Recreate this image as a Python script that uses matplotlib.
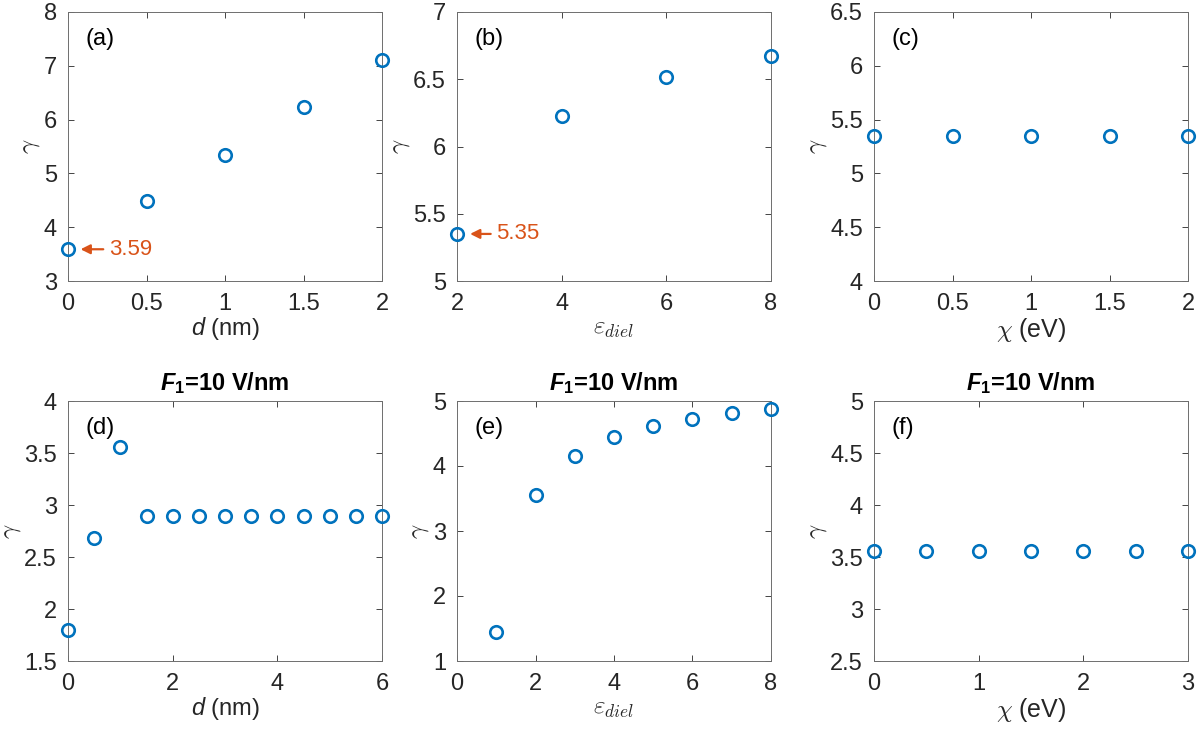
import matplotlib
matplotlib.use('Agg')
import matplotlib.pyplot as plt
from matplotlib.ticker import FuncFormatter, MultipleLocator

plt.rcParams['font.family'] = ['Liberation Sans', 'DejaVu Sans']
plt.rcParams['mathtext.fontset'] = 'custom'
plt.rcParams['mathtext.rm'] = 'Liberation Sans'
plt.rcParams['mathtext.it'] = 'Liberation Sans:italic'
plt.rcParams['mathtext.bf'] = 'Liberation Sans:bold'
plt.rcParams['mathtext.bfit'] = 'Liberation Sans:italic:bold'

# data
d_a = [0, 0.5, 1, 1.5, 2]
gamma_a = [3.59, 4.48, 5.35, 6.23, 7.11]

eps_b = [2, 4, 6, 8]
gamma_b = [5.35, 6.23, 6.52, 6.67]

chi_c = [0, 0.5, 1, 1.5, 2]
gamma_c = [5.35, 5.35, 5.35, 5.35, 5.35]

d_d = [0, 0.5, 1, 1.5, 2, 2.5, 3, 3.5, 4, 4.5, 5, 5.5, 6]
gamma_d = [1.80, 2.68, 3.56, 2.89, 2.89, 2.89, 2.89, 2.89, 2.89, 2.89, 2.89, 2.89, 2.89]

eps_e = [1, 2, 3, 4, 5, 6, 7, 8]
gamma_e = [1.45, 3.56, 4.15, 4.44, 4.62, 4.73, 4.82, 4.88]

chi_f = [0, 0.5, 1, 1.5, 2, 2.5, 3]
gamma_f = [3.56, 3.56, 3.56, 3.56, 3.56, 3.56, 3.56]

blue = '#0072BD'
orange = '#D95319'
grey = '#262626'
fs = 17

fig = plt.figure(figsize=(12.03, 7.30), dpi=100)

W, H = 1203, 730
lefts = [68, 457, 874]
width = 314
rows = [(12, 281), (401, 661)]

def make_ax(col, row):
    top, bot = rows[row]
    return fig.add_axes([lefts[col] / W, 1 - bot / H, width / W, (bot - top) / H])

fmt = FuncFormatter(lambda v, p: '%g' % v)

panels = [
    (0, 0, d_a, gamma_a, (0, 2), 0.5, (3, 8), 1, '$d$ (nm)', None, '(a)'),
    (1, 0, eps_b, gamma_b, (2, 8), 2, (5, 7), 0.5, r'$\varepsilon_{diel}$', 'cm', '(b)'),
    (2, 0, chi_c, gamma_c, (0, 2), 0.5, (4, 6.5), 0.5, r'$\chi$ (eV)', 'cm', '(c)'),
    (0, 1, d_d, gamma_d, (0, 6), 2, (1.5, 4), 0.5, '$d$ (nm)', None, '(d)'),
    (1, 1, eps_e, gamma_e, (0, 8), 2, (1, 5), 1, r'$\varepsilon_{diel}$', 'cm', '(e)'),
    (2, 1, chi_f, gamma_f, (0, 3), 1, (2.5, 5), 0.5, r'$\chi$ (eV)', 'cm', '(f)'),
]

axes = []
for col, row, x, y, xl, xs, yl, ys, xlabel, xmath, tag in panels:
    ax = make_ax(col, row)
    ax.plot(x, y, 'o', mfc='none', mec=blue, ms=9, mew=1.9, clip_on=False, zorder=5)
    ax.set_xlim(*xl)
    ax.set_ylim(*yl)
    ax.xaxis.set_major_locator(MultipleLocator(xs))
    ax.yaxis.set_major_locator(MultipleLocator(ys))
    ax.xaxis.set_major_formatter(fmt)
    ax.yaxis.set_major_formatter(fmt)
    ax.tick_params(direction='in', top=True, right=True, length=4, width=0.6,
                   colors=grey, labelsize=fs)
    ax.tick_params(axis='x', pad=9)
    ax.tick_params(axis='y', pad=8)
    for s in ax.spines.values():
        s.set_color('#6e6e6e')
        s.set_linewidth(0.7)
    if xmath == 'cm':
        ax.set_xlabel(xlabel, fontsize=fs + 1, color=grey, math_fontfamily='cm', labelpad=0)
    else:
        ax.set_xlabel(xlabel, fontsize=fs, color=grey, labelpad=0)
    ax.set_ylabel(r'$\gamma$', fontsize=fs + 1, color=grey, math_fontfamily='cm', labelpad=1)
    ax.text(0.055, 0.94, tag, transform=ax.transAxes, fontsize=fs, color='black',
            ha='left', va='top')
    if row == 1:
        ax.set_title(r'$\boldsymbol{F}_\mathbf{1}$=10 V/nm', fontsize=fs,
                     fontweight='bold', pad=8)
    axes.append(ax)

axes[0].annotate('3.59', xy=(0.08, 3.59), xytext=(0.26, 3.59), color=orange,
                 fontsize=fs - 1, ha='left', va='center',
                 arrowprops=dict(arrowstyle='-|>', color=orange, lw=1.6,
                                 mutation_scale=14, shrinkA=2, shrinkB=0))
axes[1].annotate('5.35', xy=(2.25, 5.35), xytext=(2.75, 5.35), color=orange,
                 fontsize=fs - 1, ha='left', va='center',
                 arrowprops=dict(arrowstyle='-|>', color=orange, lw=1.6,
                                 mutation_scale=14, shrinkA=2, shrinkB=0))

fig.savefig('out.png', dpi=100)
